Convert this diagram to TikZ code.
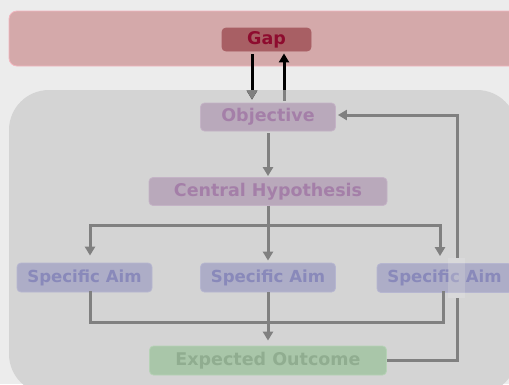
\documentclass[tikz,border=0pt]{standalone}
\usepackage{fontspec}
\setmainfont{DejaVu Sans}
\usetikzlibrary{arrows.meta}

\definecolor{pagebg}{HTML}{ECECEC}
\definecolor{bandfill}{HTML}{D4A9AA}
\definecolor{bandline}{HTML}{F2B6BF}
\definecolor{gapfill}{HTML}{A85F64}
\definecolor{gaptext}{HTML}{8E0B2E}
\definecolor{panelfill}{HTML}{D4D4D4}
\definecolor{objfill}{HTML}{B9A9BB}
\definecolor{objline}{HTML}{C4B3C6}
\definecolor{objtext}{HTML}{A47FA8}
\definecolor{aimfill}{HTML}{ADADC7}
\definecolor{aimline}{HTML}{B6B6D0}
\definecolor{aimtext}{HTML}{8989BA}
\definecolor{expfill}{HTML}{A9C6A9}
\definecolor{expline}{HTML}{B6D2B6}
\definecolor{exptext}{HTML}{90AD90}
\definecolor{connc}{HTML}{808080}
\definecolor{stripc}{HTML}{D9D9DA}

\tikzset{
  box/.style={rounded corners=4pt, line width=0.8pt, inner sep=0pt,
    font=\fontsize{17.5}{20}\selectfont\bfseries},
  gapbox/.style={box, fill=gapfill, draw=gapfill, text=gaptext,
    minimum width=89pt, minimum height=23pt},
  objbox/.style={box, fill=objfill, draw=objline, text=objtext,
    minimum height=28pt},
  aimbox/.style={box, fill=aimfill, draw=aimline, text=aimtext,
    minimum width=135pt, minimum height=29pt,
    font=\fontsize{16.6}{19}\selectfont\bfseries},
  expbox/.style={box, fill=expfill, draw=expline, text=exptext,
    minimum width=237pt, minimum height=29pt},
  conn/.style={draw=connc, line width=3pt},
  blk/.style={draw=black, line width=3pt},
  tip/.style={-{Triangle[width=10pt,length=9pt]}},
}

\begin{document}
\begin{tikzpicture}[x=1pt, y=-1pt]
  % page
  \fill[pagebg] (0,0) rectangle (509,384);
  \useasboundingbox (0,0) rectangle (509,384);

  % upper band and lower panel
  \path[fill=bandfill, draw=bandline, line width=0.8pt, rounded corners=8pt]
    (9,11) rectangle (530,66);
  \path[fill=panelfill, rounded corners=40pt] (9,90) rectangle (517,394);

  % nodes
  \node[gapbox] (gap) at (266.5,39.5) {Gap};
  \node[objbox, minimum width=135pt] (obj) at (268,117) {Objective};
  \node[objbox, minimum width=238pt] (ch) at (268,191.5) {Central Hypothesis};
  \node[aimbox] (aimL) at (84.5,277.5) {Specific Aim};
  \node[aimbox] (aimM) at (268,277.5) {Specific Aim};
  \node[expbox] (exp) at (268,360.5) {Expected Outcome};

  % branch points
  \coordinate (busL) at (90,225);
  \coordinate (busR) at (440,225);
  \coordinate (lowL) at (90,322);
  \coordinate (lowR) at (443,322);
  \coordinate (fbtop) at (457,115);

  % Gap <-> Objective (black above the panel, grey inside it)
  \draw[blk, tip, shorten <=3pt, shorten >=3pt]
    ([xshift=-14.5pt]gap.south) -- ([xshift=-14.5pt]gap.south |- obj.north);
  \draw[blk, tip, shorten <=2pt, shorten >=2pt]
    ([xshift=17.5pt]gap.south |- obj.north) -- ([xshift=17.5pt]gap.south);
  \begin{scope}
    \clip[rounded corners=40pt] (9,90) rectangle (517,394);
    \draw[conn, tip, shorten <=3pt, shorten >=3pt]
      ([xshift=-14.5pt]gap.south) -- ([xshift=-14.5pt]gap.south |- obj.north);
    \draw[conn, shorten <=2pt, shorten >=2pt]
      ([xshift=17.5pt]gap.south |- obj.north) -- ([xshift=17.5pt]gap.south);
  \end{scope}

  % Objective -> Central Hypothesis
  \draw[conn, tip, shorten <=2pt, shorten >=1pt] (obj.south) -- (ch.north);

  % Central Hypothesis -> Specific Aims
  \draw[conn] (ch.south) -- (ch.south |- busL);
  \draw[conn, line cap=rect] (busL) -- (busR);
  \draw[conn, tip, shorten >=7pt] (busL) -- (busL |- aimL.north);
  \draw[conn, tip, shorten >=2pt] (ch.south |- busL) -- (aimM.north);

  % feedback: Expected Outcome -> Objective
  \draw[conn, tip, shorten >=2pt] (exp.east) -| (fbtop) -- (obj.east |- fbtop);

  % right aim sits over the feedback line
  \fill[stripc] (448,258) rectangle (465,298);
  \node[aimbox] (aimR) at (444.5,278) {Specific Aim};
  \draw[tip, shorten >=7pt, conn] (busR) -- (busR |- aimR.north);
  \fill[stripc, opacity=0.3] (448,263) rectangle (465,293);

  % Specific Aims -> Expected Outcome
  \draw[conn, line cap=rect] (aimL.south -| lowL) -- (lowL) -- (lowR)
    -- (lowR |- aimR.south);
  \draw[conn, tip, shorten >=5pt] (aimM.south) -- (exp.north);
\end{tikzpicture}
\end{document}
